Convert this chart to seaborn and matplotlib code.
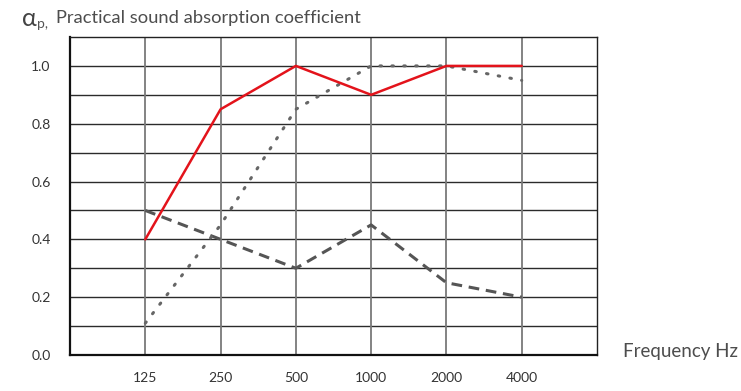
import matplotlib
matplotlib.use("Agg")
import matplotlib.pyplot as plt
import pandas as pd
import numpy as np
import seaborn as sns

sns.set_style("white")
plt.rcParams['font.family'] = ['Lato', 'DejaVu Sans']

# data
freqs = ["125", "250", "500", "1000", "2000", "4000"]
red_vals = [0.40, 0.85, 1.00, 0.90, 1.00, 1.00]
dotted_vals = [0.11, 0.45, 0.85, 1.00, 1.00, 0.95]
dashed_vals = [0.50, 0.40, 0.30, 0.45, 0.25, 0.20]
y_ticks = [0.0, 0.2, 0.4, 0.6, 0.8, 1.0]

pos = np.arange(1, len(freqs) + 1)
df = pd.DataFrame({"pos": pos, "red": red_vals, "dotted": dotted_vals, "dashed": dashed_vals})

fig = plt.figure(figsize=(7.41, 3.91), dpi=100)
ax = fig.add_axes([70 / 741, 1 - 355 / 391, (597 - 70) / 741, (355 - 37) / 391])

# grid
for y in np.arange(0.1, 1.05, 0.1):
    ax.axhline(y, color="#2b2b2b", lw=1.0, zorder=0)
for x in pos:
    ax.axvline(x, color="#7a7a7a", lw=1.3, zorder=0)

sns.lineplot(data=df, x="pos", y="dashed", ax=ax, color="#555555", lw=2.2,
             linestyle=(0, (3.5, 2.2)), zorder=3)
sns.lineplot(data=df, x="pos", y="dotted", ax=ax, color="#666666", lw=2.2,
             linestyle=(0, (0.5, 3.4)), dash_capstyle="round", zorder=3)
sns.lineplot(data=df, x="pos", y="red", ax=ax, color="#e3131b", lw=1.8, zorder=4)

ax.set_xlim(0, 7)
ax.set_ylim(0, 1.1)
ax.set_xticks(pos)
ax.set_xticklabels(freqs)
ax.set_yticks(y_ticks)
ax.set_yticklabels([f"{v:.1f}" for v in y_ticks])
ax.set_xlabel("")
ax.set_ylabel("")
ax.tick_params(axis="both", length=0, labelsize=10, colors="#333333")
ax.tick_params(axis="x", pad=12)
ax.tick_params(axis="y", pad=14)

for side in ["top", "right"]:
    ax.spines[side].set_color("#222222")
    ax.spines[side].set_linewidth(1.0)
for side in ["left", "bottom"]:
    ax.spines[side].set_color("#111111")
    ax.spines[side].set_linewidth(1.6)

fig.text(22 / 741, 1 - 18 / 391, "α", fontsize=18, color="#444444", va="center")
fig.text(37 / 741, 1 - 24 / 391, "p,", fontsize=10, color="#555555", va="center")
fig.text(56 / 741, 1 - 18 / 391, "Practical sound absorption coefficient",
         fontsize=13.2, color="#4d4d4d", va="center")
fig.text(623 / 741, 1 - 352 / 391, "Frequency Hz", fontsize=13.5, color="#4d4d4d",
         va="center")

fig.savefig("out.png", dpi=100)
